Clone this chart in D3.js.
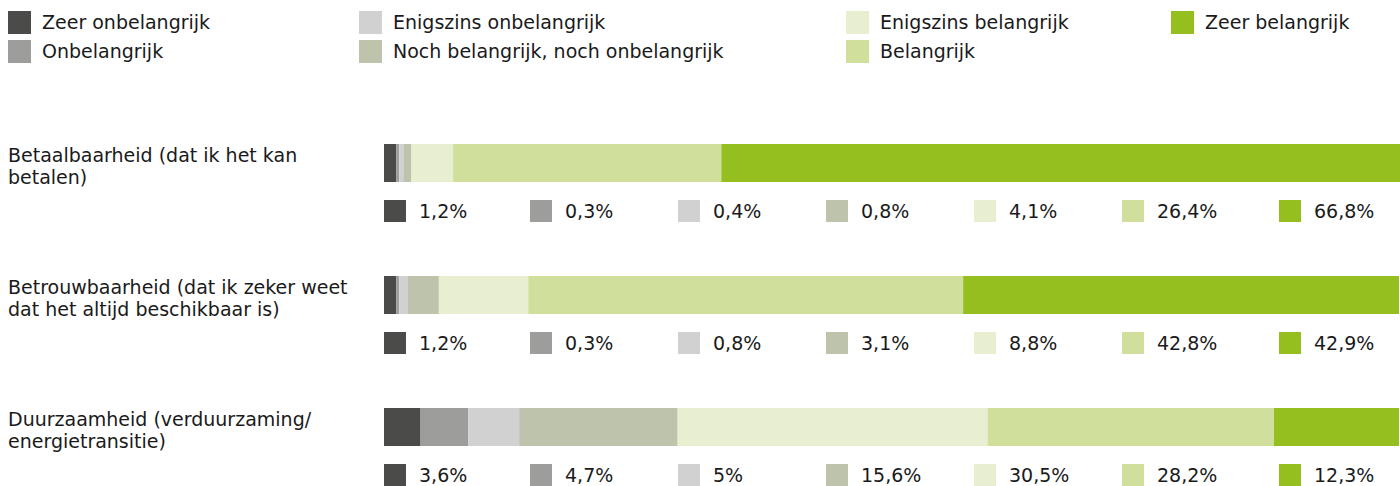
<!DOCTYPE html>
<html>
<head>
<meta charset="utf-8">
<script src="https://cdn.jsdelivr.net/npm/d3@7"></script>
<style>
  body { margin: 0; background: #fff; }
  svg { display: block; }
</style>
</head>
<body>
<div id="chart"></div>
<script>
// Answer categories (legend order) and their colours
const answers = [
  "Zeer onbelangrijk",
  "Onbelangrijk",
  "Enigszins onbelangrijk",
  "Noch belangrijk, noch onbelangrijk",
  "Enigszins belangrijk",
  "Belangrijk",
  "Zeer belangrijk"
];
const colors = ["#4b4b49", "#9d9d9c", "#d1d1d1", "#bec3ac", "#e8efd0", "#d0df9c", "#95bf1f"];

// Questions (each label split over two lines)
const questions = [
  ["Betaalbaarheid (dat ik het kan", "betalen)"],
  ["Betrouwbaarheid (dat ik zeker weet", "dat het altijd beschikbaar is)"],
  ["Duurzaamheid (verduurzaming/", "energietransitie)"]
];

// Percentages per question, in answer order
const betaalbaarheid = [1.2, 0.3, 0.4, 0.8, 4.1, 26.4, 66.8];
const betrouwbaarheid = [1.2, 0.3, 0.8, 3.1, 8.8, 42.8, 42.9];
const duurzaamheid = [3.6, 4.7, 5, 15.6, 30.5, 28.2, 12.3];
const values = [betaalbaarheid, betrouwbaarheid, duurzaamheid];

const width = 1400, height = 486;
const font = "'DejaVu Sans', sans-serif";
const fontSize = "19px";
const textColor = "#1a1a1a";

const svg = d3.select("#chart")
  .append("svg")
  .attr("width", width)
  .attr("height", height);

// Legend: 4 columns, 2 rows
const legendCols = [8, 359, 846, 1171];
const legend = svg.append("g");
answers.forEach((a, i) => {
  const col = Math.floor(i / 2), row = i % 2;
  const g = legend.append("g")
    .attr("transform", "translate(" + legendCols[col] + "," + (11 + row * 29) + ")");
  g.append("rect")
    .attr("width", 23).attr("height", 23)
    .attr("fill", colors[i]);
  g.append("text")
    .attr("x", 34).attr("y", 18)
    .style("font-family", font)
    .style("font-size", fontSize)
    .attr("fill", textColor)
    .text(a);
});

// Scales
const x = d3.scaleLinear().domain([0, 100]).range([384, 1400]);
const y = d3.scaleBand()
  .domain(d3.range(questions.length))
  .range([144, 144 + 132 * questions.length])
  .paddingInner(0);
const barHeight = 38;

// Positions of the value labels under each bar
const valueCols = [384, 530, 678, 826, 974, 1122, 1279];

questions.forEach((q, qi) => {
  const top = y(qi);
  const g = svg.append("g");

  // Question label
  q.forEach((line, li) => {
    g.append("text")
      .attr("x", 8)
      .attr("y", top + 18 + li * 22)
      .style("font-family", font)
      .style("font-size", fontSize)
      .attr("fill", textColor)
      .text(line);
  });

  // Stacked segments
  const cum = d3.cumsum(values[qi]);
  g.selectAll("rect.seg")
    .data(values[qi])
    .enter()
    .append("rect")
    .attr("class", "seg")
    .attr("x", (d, i) => x(cum[i] - d))
    .attr("y", top)
    .attr("width", (d, i) => x(cum[i]) - x(cum[i] - d))
    .attr("height", barHeight)
    .attr("fill", (d, i) => colors[i]);

  // Value row
  values[qi].forEach((v, i) => {
    g.append("rect")
      .attr("x", valueCols[i])
      .attr("y", top + 56)
      .attr("width", 22).attr("height", 22)
      .attr("fill", colors[i]);
    g.append("text")
      .attr("x", valueCols[i] + 35)
      .attr("y", top + 74)
      .style("font-family", font)
      .style("font-size", fontSize)
      .attr("fill", textColor)
      .text(String(v).replace(".", ",") + "%");
  });
});
</script>
</body>
</html>
